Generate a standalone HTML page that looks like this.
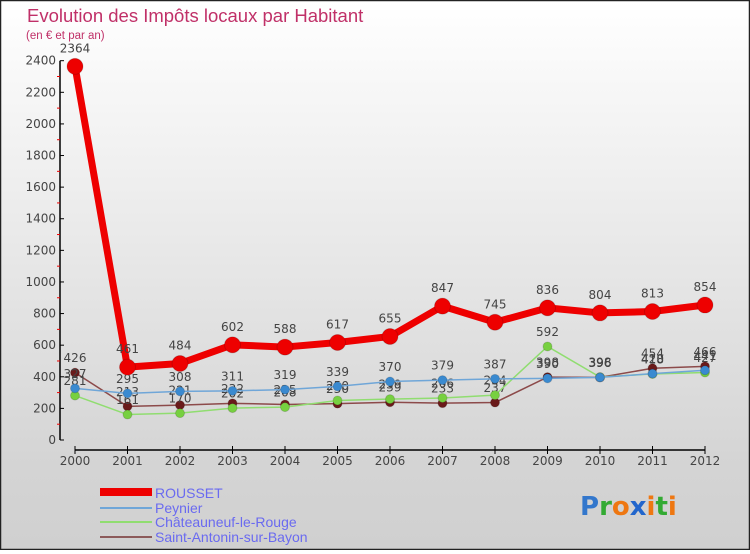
<!DOCTYPE html>
<html><head><meta charset="utf-8"><style>
html,body{margin:0;padding:0}
body{width:750px;height:550px;overflow:hidden;font-family:"DejaVu Sans","Liberation Sans",sans-serif}
</style></head><body>
<svg id="chart" width="750" height="550" xmlns="http://www.w3.org/2000/svg">
<defs><linearGradient id="bg" x1="0" y1="0" x2="0" y2="1"><stop offset="0" stop-color="#ffffff"/><stop offset="0.85" stop-color="#d4d4d4"/><stop offset="1" stop-color="#d0d0d0"/></linearGradient></defs>
<rect x="0.5" y="0.5" width="749" height="549" fill="url(#bg)" stroke="#222" stroke-width="1.5"/>
<text x="27" y="22" font-size="18.5" fill="#c03068" font-family="Liberation Sans, sans-serif" font-weight="300">Evolution des Impôts locaux par Habitant</text>
<text x="26" y="39" font-size="11.5" fill="#c03068" font-family="Liberation Sans, sans-serif">(en € et par an)</text>
<g id="axes"></g><g id="series"></g>
<g font-size="14" fill="#6a6af0" font-family="Liberation Sans, sans-serif">
<rect x="100" y="488" width="52" height="8" fill="#ee0000"/>
<text x="155" y="498">ROUSSET</text>
<rect x="100" y="507" width="52" height="2" fill="#6fa6d8"/>
<text x="155" y="513">Peynier</text>
<rect x="100" y="521" width="52" height="2" fill="#90dd70"/>
<text x="155" y="527">Châteauneuf-le-Rouge</text>
<rect x="100" y="536" width="52" height="2" fill="#8c5a5a"/>
<text x="155" y="542">Saint-Antonin-sur-Bayon</text>
</g>
<g font-size="26" font-family="DejaVu Sans, sans-serif" font-weight="bold">
<text x="580" y="515"><tspan fill="#3377cc">P</tspan><tspan fill="#33aa33">r</tspan><tspan fill="#ee7711">o</tspan><tspan fill="#2266cc">x</tspan><tspan fill="#ee7711">i</tspan><tspan fill="#33aa33">t</tspan><tspan fill="#ee7711">i</tspan></text>
</g>
</svg>
<script>
const years = [2000,2001,2002,2003,2004,2005,2006,2007,2008,2009,2010,2011,2012];
const yTicks = [0,200,400,600,800,1000,1200,1400,1600,1800,2000,2200,2400];
const rousset = [2364,461,484,602,588,617,655,847,745,836,804,813,854];
const peynier = [327,295,308,311,319,339,370,379,387,390,396,420,441];
const chateauneuf = [281,161,170,202,208,250,259,266,284,592,398,418,427];
const saintAntonin = [426,213,221,232,225,230,239,233,237,398,396,454,466];
const NS="http://www.w3.org/2000/svg";
const xS = i => 75 + i*52.5;
const yS = v => 440 - v*(379.3/2400);
function mk(tag, attrs, parent){const e=document.createElementNS(NS,tag);for(const k in attrs)e.setAttribute(k,attrs[k]);parent.appendChild(e);return e;}
const ax=document.getElementById('axes');
let yl=mk('line',{x1:60,y1:yS(2400),x2:60,y2:440,stroke:'#000','stroke-width':1.5},ax);


for(let v=100;v<2400;v+=200){const t=mk('line',{x1:57,x2:60,y1:yS(v),y2:yS(v),stroke:'#e00','stroke-width':1},ax);

}
yTicks.forEach(v=>{mk('line',{x1:60,x2:64,y1:yS(v),y2:yS(v),stroke:'#000','stroke-width':1},ax);
const t=mk('text',{x:56,y:yS(v)+4,'text-anchor':'end','font-size':12,fill:'#444'},ax);t.textContent=v;

});
let xl=mk('line',{x1:xS(0),x2:xS(years.length-1),y1:450,y2:450,stroke:'#000','stroke-width':1.5},ax);


years.forEach((y,i)=>{mk('line',{x1:xS(i),x2:xS(i),y1:446,y2:454,stroke:'#000','stroke-width':1},ax);
const t=mk('text',{x:xS(i),y:465,'text-anchor':'middle','font-size':12,fill:'#444'},ax);t.textContent=y;

});
const sg=document.getElementById('series');
function draw(data,name,color,w,r,dotFill){
 const g=mk('g',{},sg);
 
 
 const l=mk('polyline',{points:data.map((v,i)=>xS(i)+','+yS(v)).join(' '),fill:'none',stroke:color,'stroke-width':w,'stroke-linejoin':'round'},g);
 
 
 data.forEach((v,i)=>{const c=mk('circle',{cx:xS(i),cy:yS(v),r:r,fill:dotFill,stroke:'rgba(0,0,0,0.15)'},g);
 
 
 const t=mk('text',{x:xS(i),y:yS(v)-(r+6),'text-anchor':'middle','font-size':12,fill:'#444'},g);t.textContent=v;
 
 });
}
draw(saintAntonin,'saint-antonin','#8c4a4a',1.5,4.5,'#6a1a1a');
draw(chateauneuf,'chateauneuf','#90dd70',1.5,4.5,'#77d040');
draw(peynier,'peynier','#6fa6d8',1.5,4.5,'#3a8ad0');
draw(rousset,'rousset','#ee0000',7,8,'#ee0000');
</script>
</body></html>
